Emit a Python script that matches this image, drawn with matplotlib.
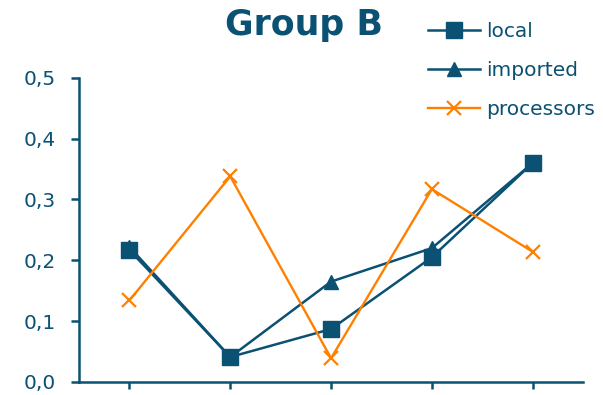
import matplotlib
matplotlib.use('Agg')
import matplotlib.pyplot as plt

# values
points = [0, 1, 2, 3, 4]
local = [0.217, 0.041, 0.087, 0.205, 0.360]
imported = [0.222, 0.041, 0.165, 0.220, 0.360]
processors = [0.134, 0.338, 0.039, 0.317, 0.214]
ytick_vals = [0.0, 0.1, 0.2, 0.3, 0.4, 0.5]
ytick_labels = ['0,0', '0,1', '0,2', '0,3', '0,4', '0,5']

blue = '#0b5173'
orange = '#ff8000'

fig = plt.figure(figsize=(6.03, 3.95), dpi=100)
ax = fig.add_axes([0.131, 0.033, 0.836, 0.770])

ax.plot(points, local, color=blue, lw=1.8, marker='s', ms=11, label='local')
ax.plot(points, imported, color=blue, lw=1.8, marker='^', ms=9.5, label='imported')
ax.plot(points, processors, color=orange, lw=1.7, marker='x', ms=10, mew=1.6,
        label='processors')

ax.set_xlim(-0.5, 4.5)
ax.set_ylim(0, 0.5)
ax.set_xticks(points)
ax.set_xticklabels([])
ax.set_yticks(ytick_vals)
ax.set_yticklabels(ytick_labels)

for side in ['top', 'right']:
    ax.spines[side].set_visible(False)
for side in ['left', 'bottom']:
    ax.spines[side].set_color(blue)
    ax.spines[side].set_linewidth(1.8)
ax.tick_params(axis='y', colors=blue, length=6, width=1.8, labelsize=14.5, pad=11)
ax.tick_params(axis='x', colors=blue, length=5, width=1.8)

fig.text(0.504, 0.937, 'Group B', ha='center', va='center', fontsize=25,
         fontweight='bold', color=blue)

leg = fig.legend(loc='upper left', bbox_to_anchor=(428 / 603, 1 - 22 / 395),
                 frameon=False, fontsize=14.5, handlelength=2.6,
                 handletextpad=0.3, labelspacing=1.0, borderpad=0,
                 borderaxespad=0)
for t in leg.get_texts():
    t.set_color(blue)

fig.savefig('out.png', dpi=100)
